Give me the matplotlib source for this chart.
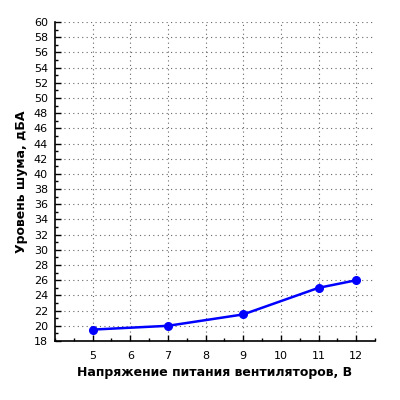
import matplotlib
matplotlib.use("Agg")
import matplotlib.pyplot as plt
from matplotlib.ticker import MultipleLocator

voltage = [5, 7, 9, 11, 12]
noise = [19.5, 20, 21.5, 25, 26]
xticks = [5, 6, 7, 8, 9, 10, 11, 12]
yticks = list(range(18, 61, 2))

fig = plt.figure(figsize=(4, 4), dpi=100)
ax = fig.add_axes([0.1375, 0.1475, 0.8, 0.7975])
ax.plot(voltage, noise, color="#0000ff", lw=1.8, marker="o", ms=5.5, zorder=3)
ax.set_xlim(4, 12.5)
ax.set_ylim(18, 60)
ax.set_xticks(xticks)
ax.set_yticks(yticks)
ax.xaxis.set_minor_locator(MultipleLocator(0.5))
ax.yaxis.set_minor_locator(MultipleLocator(1))
ax.tick_params(which="major", labelsize=8, direction="in", length=4, width=1)
ax.tick_params(which="minor", direction="in", length=2, width=1)
ax.tick_params(axis="x", which="major", pad=7)
ax.tick_params(axis="y", which="major", pad=5)
ax.grid(True, which="major", color="#666666", linestyle=(0, (1, 3)), linewidth=0.8)
ax.spines["top"].set_visible(False)
ax.spines["right"].set_visible(False)
ax.spines["left"].set_linewidth(1.2)
ax.spines["bottom"].set_linewidth(1.2)
ax.set_xlabel("Напряжение питания вентиляторов, В", fontsize=9, fontweight="bold")
ax.set_ylabel("Уровень шума, дБА", fontsize=9, fontweight="bold")
fig.savefig("out.png", dpi=100)
